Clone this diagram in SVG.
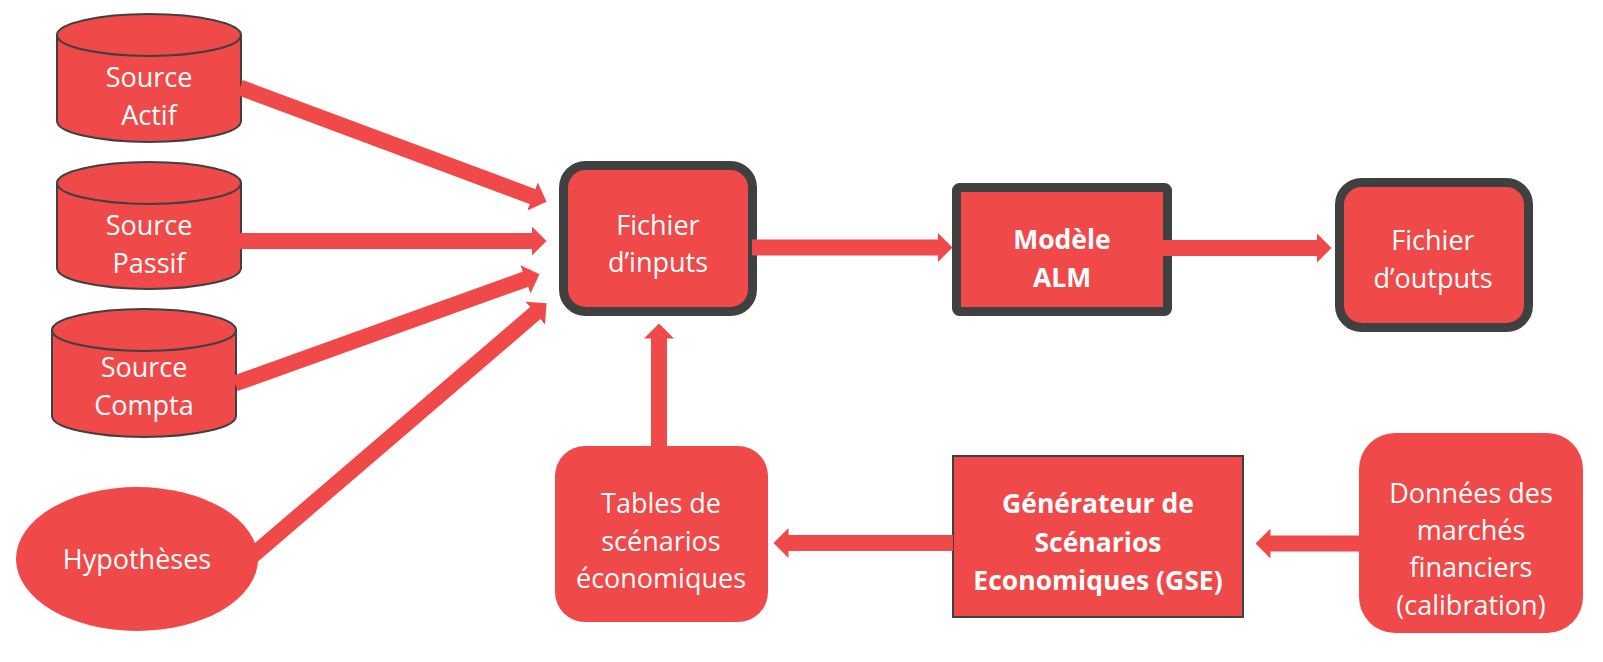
<svg xmlns="http://www.w3.org/2000/svg" width="1603" height="662" viewBox="0 0 1603 662">
<defs>
<style>
.fill{fill:#EF4949}
.cyl{fill:#EF4949;stroke:#404040;stroke-width:2}
.box{fill:#EF4949;stroke:#404040;stroke-width:9}
.thin{fill:#EF4949;stroke:#404040;stroke-width:2}
.t{font-family:"Open Sans","Liberation Sans",sans-serif;font-size:27px;fill:#ffffff;text-anchor:middle}
.b{font-weight:bold;font-size:26.5px}
.arr{stroke:#EF4949;stroke-width:16;fill:none;marker-end:url(#head)}
</style>
<marker id="head" markerUnits="userSpaceOnUse" viewBox="0 0 15 30" markerWidth="15" markerHeight="30" refX="0.5" refY="15" orient="auto">
<path d="M0,0 L15,15 L0,30 Z" fill="#EF4949"/>
</marker>
</defs>
<rect width="1603" height="662" fill="#ffffff"/>

<g id="source-actif">
<path class="cyl" d="M57,35 L57,121 A92,21 0 0 0 241,121 L241,35 Z"/>
<ellipse class="cyl" cx="149" cy="35" rx="92" ry="21"/>
<text class="t" x="149" y="87">Source</text>
<text class="t" x="149" y="125">Actif</text>
</g>
<g id="source-passif">
<path class="cyl" d="M57,183 L57,268 A92,21 0 0 0 241,268 L241,183 Z"/>
<ellipse class="cyl" cx="149" cy="183" rx="92" ry="21"/>
<text class="t" x="149" y="235">Source</text>
<text class="t" x="149" y="273">Passif</text>
</g>
<g id="source-compta">
<path class="cyl" d="M52,330 L52,416 A92,21 0 0 0 236,416 L236,330 Z"/>
<ellipse class="cyl" cx="144" cy="330" rx="92" ry="21"/>
<text class="t" x="144" y="377">Source</text>
<text class="t" x="144" y="415">Compta</text>
</g>
<g id="hypotheses">
<ellipse class="fill" cx="137" cy="559" rx="121" ry="72"/>
<text class="t" x="137" y="569">Hypothèses</text>
</g>
<g id="fichier-inputs">
<rect class="box" x="563.5" y="165.5" width="189" height="146" rx="22"/>
<text class="t" x="658" y="235">Fichier</text>
<text class="t" x="658" y="272">d’inputs</text>
</g>
<g id="modele-alm">
<rect class="box" x="956.5" y="187.5" width="211" height="124" rx="3"/>
<text class="t b" x="1062" y="249">Modèle</text>
<text class="t b" x="1062" y="287">ALM</text>
</g>
<g id="fichier-outputs">
<rect class="box" x="1339.5" y="182.5" width="189" height="145" rx="22"/>
<text class="t" x="1433" y="250">Fichier</text>
<text class="t" x="1433" y="288">d’outputs</text>
</g>
<g id="tables-scenarios">
<rect class="fill" x="555" y="446" width="213" height="176" rx="30"/>
<text class="t" x="661" y="513">Tables de</text>
<text class="t" x="661" y="551">scénarios</text>
<text class="t" x="661" y="588">économiques</text>
</g>
<g id="gse">
<rect class="thin" x="953" y="456" width="290" height="161"/>
<text class="t b" x="1098" y="513">Générateur de</text>
<text class="t b" x="1098" y="552">Scénarios</text>
<text class="t b" x="1098" y="590">Economiques (GSE)</text>
</g>
<g id="donnees-marches">
<rect class="fill" x="1359" y="433" width="224" height="200" rx="36"/>
<text class="t" x="1471" y="503">Données des</text>
<text class="t" x="1471" y="540">marchés</text>
<text class="t" x="1471" y="577">financiers</text>
<text class="t" x="1471" y="615">(calibration)</text>
</g>

<g id="connectors">
<line class="arr" x1="240" y1="87.5" x2="533" y2="196.7"/>
<line class="arr" x1="240" y1="241" x2="532" y2="241"/>
<line class="arr" x1="235" y1="383.5" x2="525.9" y2="279.1"/>
<line class="arr" x1="248" y1="559.5" x2="535.6" y2="312.8"/>
<line class="arr" x1="752" y1="247.5" x2="938" y2="247.5"/>
<line class="arr" x1="1163" y1="248" x2="1317" y2="248"/>
<line class="arr" x1="659" y1="447" x2="659" y2="338"/>
<line class="arr" x1="953" y1="543" x2="788" y2="543"/>
<line class="arr" x1="1360" y1="543.5" x2="1270" y2="543.5"/>
</g>
</svg>
